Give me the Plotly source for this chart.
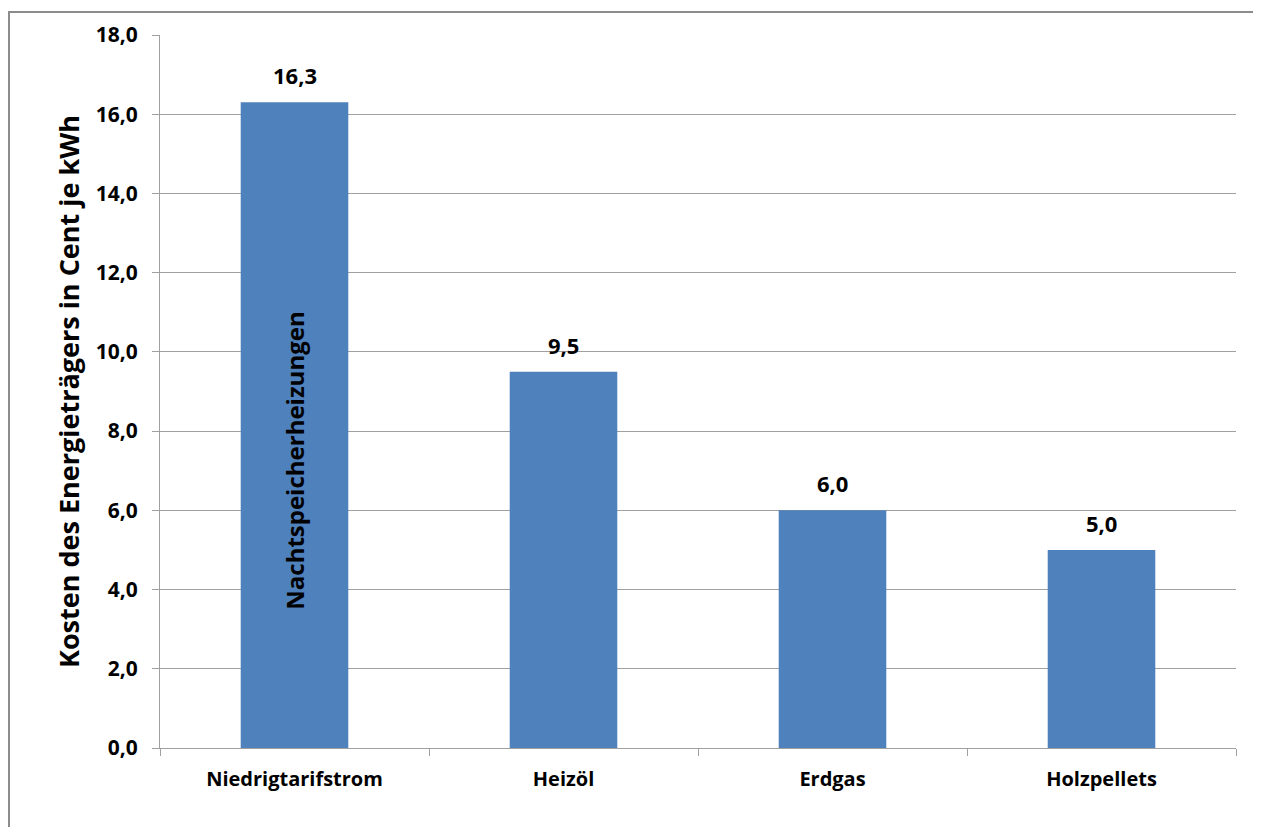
import plotly.graph_objects as go

categories = ["Niedrigtarifstrom", "Heizöl", "Erdgas", "Holzpellets"]
values = [16.3, 9.5, 6.0, 5.0]
value_labels = ["16,3", "9,5", "6,0", "5,0"]
tick_vals = [0, 2, 4, 6, 8, 10, 12, 14, 16, 18]
tick_text = ["0,0", "2,0", "4,0", "6,0", "8,0", "10,0", "12,0", "14,0", "16,0", "18,0"]
y_title = "Kosten des Energieträgers in Cent je kWh"
bar_note = "Nachtspeicherheizungen"

FONT = "Open Sans, Arial"

fig = go.Figure()
fig.add_trace(go.Bar(
    x=categories, y=values,
    marker=dict(color="#4F81BD", line=dict(width=0)),
    hoverinfo="x+y",
))

for c, v, t in zip(categories, values, value_labels):
    fig.add_annotation(
        x=c, y=v, text="<b>" + t + "</b>", showarrow=False,
        yanchor="bottom", yshift=10,
        font=dict(family=FONT, size=22, color="black"),
    )

fig.add_annotation(
    x=categories[0], y=7.24, text="<b>" + bar_note + "</b>",
    textangle=-90, showarrow=False,
    font=dict(family=FONT, size=24, color="black"),
)

W, H = 1261, 827
L, R, T, B = 152, 33, 24, 87
pw, ph = W - L - R, H - T - B

def px(xpix):
    return (xpix - L) / pw

def py(ypix):
    return (H - B - ypix) / ph

fig.add_shape(type="rect", xref="paper", yref="paper",
              x0=px(1), x1=px(1250), y0=py(900), y1=py(1),
              line=dict(color="#8C8C8C", width=2), layer="below")

fig.update_layout(
    width=W, height=H,
    margin=dict(l=L, r=R, t=T, b=B),
    paper_bgcolor="white", plot_bgcolor="white",
    bargap=0.6,
    showlegend=False,
    font=dict(family=FONT, color="black"),
)

fig.update_xaxes(
    showline=True, linecolor="#A0A0A0", linewidth=1,
    ticks="outside", tickson="boundaries", ticklen=7, tickcolor="#A0A0A0",
    tickfont=dict(family=FONT, size=20, color="black"),
    tickprefix="<b>", ticksuffix="</b>",
    ticklabelstandoff=13,
    showgrid=False,
)

fig.update_yaxes(
    range=[0, 18], tickvals=tick_vals, ticktext=["<b>" + t + "</b>" for t in tick_text],
    showline=True, linecolor="#A0A0A0", linewidth=1,
    ticks="outside", ticklen=7, tickcolor="#A0A0A0",
    ticklabelstandoff=10,
    showgrid=True, gridcolor="#A0A0A0", gridwidth=1,
    tickfont=dict(family=FONT, size=21, color="black"),
    zeroline=False,
    title=dict(text="<b>" + y_title + "</b>", font=dict(family=FONT, size=27, color="black"), standoff=8),
)

fig.write_html("out.html")
